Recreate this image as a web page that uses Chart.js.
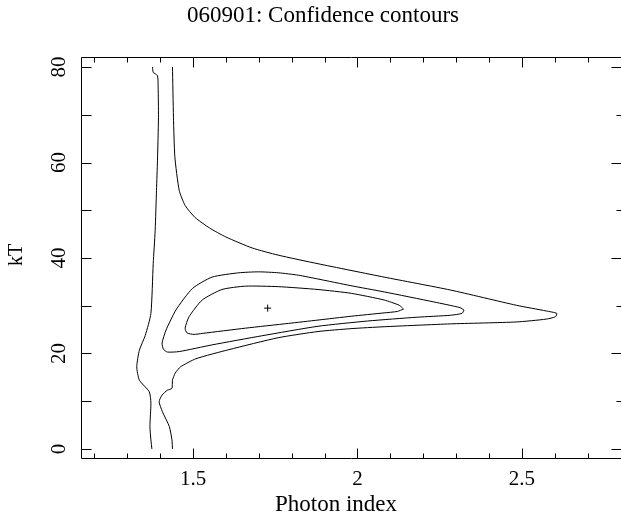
<!DOCTYPE html>
<html>
<head>
<meta charset="utf-8">
<script src="https://cdn.jsdelivr.net/npm/chart.js@4.4.0/dist/chart.umd.min.js"></script>
<style>
  body { margin: 0; background: #fff; }
  canvas { display: block; }
</style>
</head>
<body>
<canvas id="myChart" width="621" height="517"></canvas>
<script>
// Contour lines: photon index (x) and kT (y)
const leftLineIndex = [1.377, 1.379, 1.392, 1.394, 1.395, 1.392, 1.389, 1.385, 1.379, 1.372, 1.355, 1.337, 1.329, 1.337, 1.367, 1.372, 1.369, 1.372, 1.375];
const leftLineKT    = [80.0, 78.9, 78.2, 75.8, 69.5, 60.5, 54.2, 45.8, 38.8, 28.4, 23.8, 20.7, 17.2, 14.4, 12.0, 9.6, 4.7, 1.9, 0];

const outerIndex = [1.4376, 1.4406, 1.4448, 1.458, 1.476, 1.506, 1.550, 1.600, 1.680, 1.759, 1.880, 2.081, 2.282, 2.483, 2.574, 2.606,
                    2.602, 2.574, 2.483, 2.282, 2.081, 1.980, 1.880, 1.759, 1.609, 1.509, 1.462, 1.446, 1.4376, 1.436, 1.422, 1.406, 1.397, 1.407, 1.428, 1.436, 1.4376];
const outerKT    = [80.0, 69.5, 61.2, 54.2, 51.0, 48.5, 46.3, 44.4, 42.1, 40.6, 38.8, 36.0, 33.3, 30.1, 28.9, 28.4,
                    27.7, 27.2, 26.6, 26.2, 25.6, 25.2, 24.6, 23.3, 20.8, 18.9, 17.2, 15.9, 14.4, 12.7, 12.3, 11.3, 9.9, 7.8, 4.7, 1.9, 0];

const midIndex = [2.324, 2.312, 2.232, 2.081, 1.980, 1.880, 1.820, 1.760, 1.700, 1.639, 1.558, 1.498, 1.448, 1.418, 1.406, 1.410, 1.422, 1.458, 1.558, 1.709, 1.880, 2.031, 2.182, 2.282, 2.318, 2.324];
const midKT    = [29.1, 29.6, 30.8, 32.9, 34.2, 35.6, 36.4, 36.9, 37.1, 36.9, 36.0, 33.6, 29.1, 24.9, 22.2, 20.9, 20.3, 20.4, 21.8, 23.7, 25.7, 26.8, 27.6, 28.0, 28.4, 29.1];

const innerIndex = [2.140, 2.127, 2.081, 1.981, 1.880, 1.759, 1.659, 1.588, 1.528, 1.488, 1.476, 1.482, 1.503, 1.528, 1.659, 1.790, 1.880, 1.981, 2.081, 2.121, 2.140];
const innerKT    = [29.3, 30.1, 31.2, 32.6, 33.4, 34.0, 34.1, 33.4, 31.2, 27.7, 25.3, 24.3, 24.0, 24.2, 25.3, 26.3, 27.0, 27.8, 28.5, 28.8, 29.3];

const bestFitIndex = [1.727];
const bestFitKT    = [29.5];

// Axis ticks
const xMajorTicks = [1.5, 2, 2.5];
const xTickLabels = ['1.5', '2', '2.5'];
const yMajorTicks = [0, 20, 40, 60, 80];
const yTickLabels = ['0', '20', '40', '60', '80'];

function toPoints(xs, ys) {
  return xs.map((x, i) => ({ x: x, y: ys[i] }));
}

function lineSet(xs, ys) {
  return {
    data: toPoints(xs, ys),
    showLine: true,
    borderColor: '#000',
    borderWidth: 1,
    pointRadius: 0,
    tension: 0.2,
    fill: false
  };
}

// PGPLOT style frame, inward ticks and labels drawn with the chart's scales
const framePlugin = {
  id: 'frame',
  afterDraw(chart) {
    const ctx = chart.ctx;
    const xs = chart.scales.x, ys = chart.scales.y;
    const L = 81.5, R = 621.5, T = 57.5, B = 458.5;
    ctx.save();
    ctx.strokeStyle = '#000';
    ctx.lineWidth = 1;
    ctx.beginPath();
    ctx.moveTo(L, T); ctx.lineTo(R, T); ctx.lineTo(R, B); ctx.lineTo(L, B); ctx.closePath();

    // x ticks every 0.1
    for (let k = 12; k <= 27; k++) {
      const v = k / 10;
      const px = Math.round(xs.getPixelForValue(v)) + 0.5;
      const len = xMajorTicks.some(m => Math.abs(m - v) < 1e-6) ? 10 : 5;
      ctx.moveTo(px, B); ctx.lineTo(px, B - len);
      ctx.moveTo(px, T); ctx.lineTo(px, T + len);
    }
    // y ticks every 10
    for (let v = 0; v <= 80; v += 10) {
      const py = Math.round(ys.getPixelForValue(v)) + 0.5;
      const major = v % 20 === 0;
      ctx.moveTo(L, py); ctx.lineTo(L + 10, py);
      ctx.moveTo(R, py); ctx.lineTo(R - (major ? 10 : 5), py);
    }
    ctx.stroke();

    ctx.fillStyle = '#000';
    ctx.font = '21px "Liberation Serif"';
    ctx.textAlign = 'center';
    ctx.textBaseline = 'alphabetic';
    xMajorTicks.forEach((v, i) => {
      ctx.fillText(xTickLabels[i], xs.getPixelForValue(v), 485);
    });
    yMajorTicks.forEach((v, i) => {
      ctx.save();
      ctx.translate(65, ys.getPixelForValue(v));
      ctx.rotate(-Math.PI / 2);
      ctx.fillText(yTickLabels[i], 0, 0);
      ctx.restore();
    });

    ctx.font = '23px "Liberation Serif"';
    ctx.fillText('Photon index', 336, 511);
    ctx.fillText('060901: Confidence contours', 323, 22);

    ctx.font = '20px "Liberation Serif"';
    ctx.save();
    ctx.translate(22, 255);
    ctx.rotate(-Math.PI / 2);
    ctx.fillText('kT', 0, 0);
    ctx.restore();
    ctx.restore();
  }
};

var ctx = document.getElementById('myChart').getContext('2d');
var contourChart = new Chart(ctx, {
  type: 'scatter',
  data: {
    datasets: [
      lineSet(leftLineIndex, leftLineKT),
      lineSet(outerIndex, outerKT),
      lineSet(midIndex, midKT),
      lineSet(innerIndex, innerKT),
      {
        data: toPoints(bestFitIndex, bestFitKT),
        pointStyle: 'cross',
        pointRadius: 3.5,
        borderColor: '#000',
        borderWidth: 1,
        showLine: false
      }
    ]
  },
  options: {
    responsive: false,
    animation: false,
    devicePixelRatio: 1,
    layout: { padding: { left: 81.5, right: 0, top: 57.5, bottom: 58.5 } },
    plugins: { legend: { display: false }, title: { display: false }, tooltip: { enabled: false } },
    scales: {
      x: { type: 'linear', display: false, min: 1.161, max: 2.786 },
      y: { type: 'linear', display: false, min: -2, max: 82 }
    }
  },
  plugins: [framePlugin]
});
</script>
</body>
</html>
